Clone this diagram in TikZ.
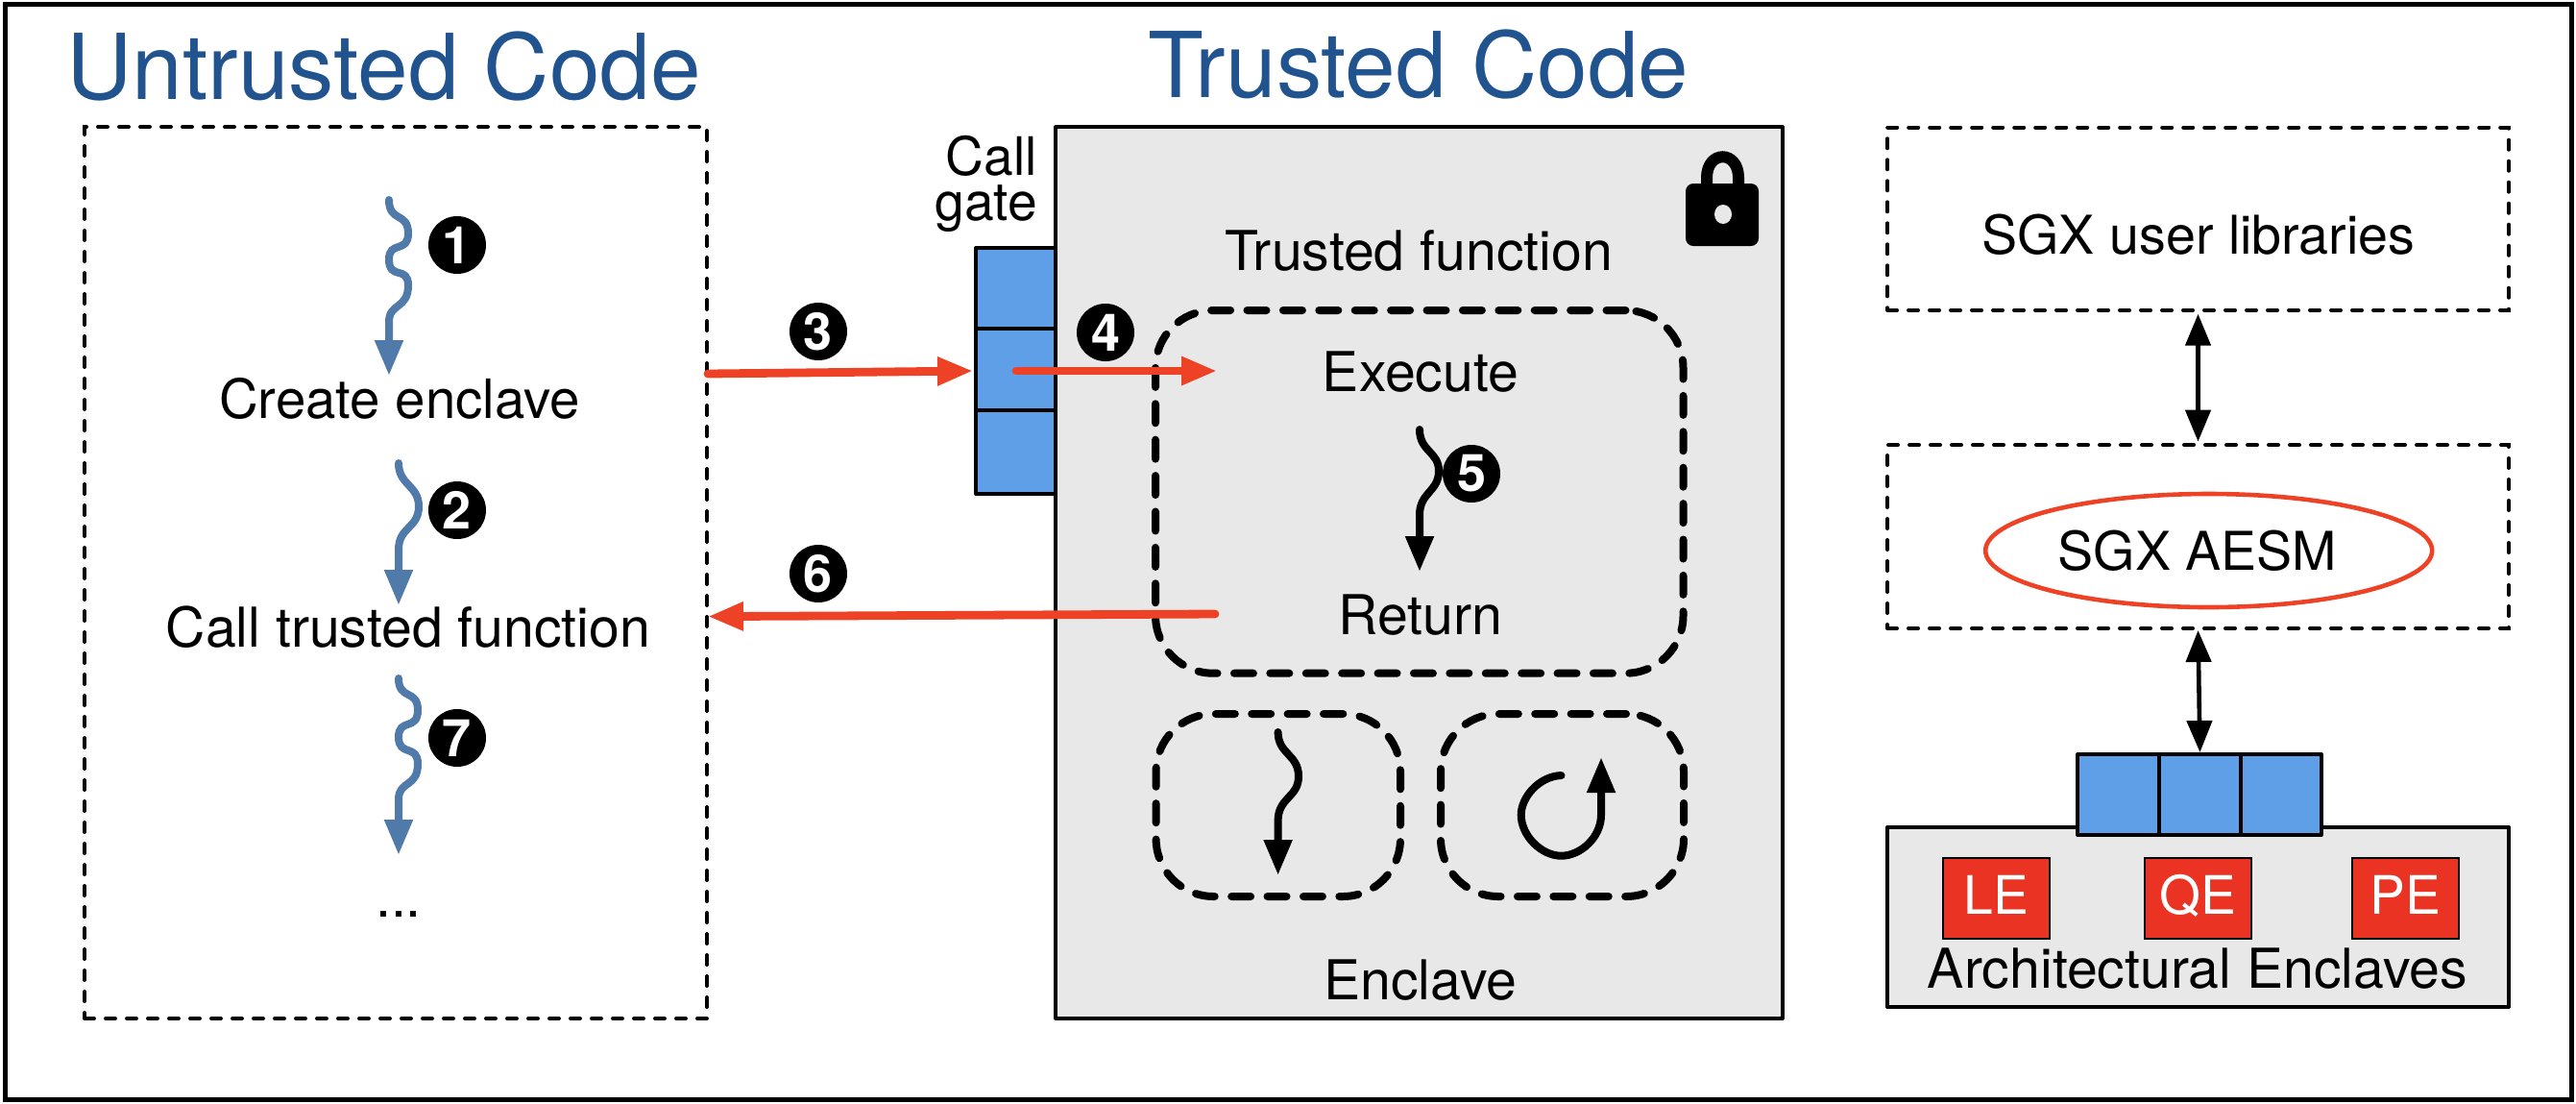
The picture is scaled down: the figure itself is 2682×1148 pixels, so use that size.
\documentclass[tikz,border=0pt]{standalone}
\usepackage{fontspec}
\setmainfont{TeX Gyre Heros}
\usetikzlibrary{arrows.meta,shapes.geometric}
\definecolor{titleblue}{HTML}{21538F}
\definecolor{wave}{HTML}{507AA9}
\definecolor{gateblue}{HTML}{5E9FE8}
\definecolor{panel}{HTML}{E8E8E8}
\definecolor{flow}{HTML}{EE4226}
\definecolor{aered}{HTML}{EA3323}
\tikzset{
  every node/.style={inner sep=0pt,outer sep=0pt},
  sz/.style 2 args={minimum width=#1*0.5pt,minimum height=#2*0.5pt},
  label/.style={anchor=base,font=\fontsize{28.6}{33}\selectfont},
  narrowlabel/.style={anchor=base,font=\fontsize{27.8}{33}\selectfont},
  title/.style={anchor=base,text=titleblue,font=\fontsize{47.3}{56}\selectfont},
  thindash/.style={draw=black,line width=2pt,line cap=round,dash pattern=on 5pt off 6pt},
  thickdash/.style={draw=black,line width=4pt,line cap=round,dash pattern=on 10pt off 8.7pt,rounded corners=30pt},
  panelbox/.style={draw=black,fill=panel,line width=2pt,line join=round},
  cell/.style={draw=black,fill=gateblue,line width=2pt,line join=round},
  badge/.style={circle,fill=black,text=white,minimum size=30pt,font=\fontsize{27}{27}\selectfont\bfseries},
  aebox/.style={draw=black,fill=aered,line width=1pt,text=white,text height=20pt,text depth=3.3pt,font=\fontsize{27.6}{33}\selectfont},
  flowarrow/.style={draw=flow,line width=4.4pt,line cap=round,-{Triangle[length=18.5pt,width=14pt]}},
  wavearrow/.style={draw=wave,line width=4pt,line cap=round,-{Triangle[length=18.5pt,width=14pt]}},
  blackwave/.style={draw=black,line width=4pt,line cap=round,-{Triangle[length=18.5pt,width=14pt]}},
  biarrow/.style={draw=black,line width=2.3pt,{Triangle[length=16.5pt,width=13pt]}-{Triangle[length=16.5pt,width=13pt]}}
}
\begin{document}
\begin{tikzpicture}[x=0.5pt,y=-0.5pt]
\useasboundingbox (0,0) rectangle (2682,1148);
% frame
\node[draw=black,line width=2.5pt,sz={2672}{1140}] (frame) at (1341,574) {};
% titles
\node[title] (tu) at (400,103) {Untrusted Code};
\node[title] (tt) at (1477,101) {Trusted Code};
% left box
\node[thindash,sz={648}{928}] (untrusted) at (412,596) {};
\node[label,font=\fontsize{28.2}{33}\selectfont] (create) at (416,435) {Create enclave};
\node[label] (calltf) at (425,673) {Call trusted function};
\node[label] (dots) at (415,954) {...};
% enclave
\node[panelbox,sz={757}{927.5}] (enclave) at (1477.5,596) {};
% call gate
\node[cell,sz={83}{84}] (gate1) at (1057.5,300) {};
\node[cell,sz={83}{84.5}] (gate2) at (1057.5,384.25) {};
\node[cell,sz={83}{87.5}] (gate3) at (1057.5,470.25) {};
\node[anchor=north east,align=right,font=\fontsize{27.6}{23.5}\selectfont] (gatelabel) at (1080,141) {Call\\gate};
% lock
\fill[black,rounded corners=4pt] (1755,191) rectangle (1831,256);
\draw[black,line width=6pt] (1777,197) -- (1777,185) .. controls (1777,156) and (1810,156) .. (1810,185) -- (1810,197);
\fill[panel] (1794,223) ellipse (4.5pt and 5pt);
% enclave contents
\node[label] (tf) at (1477,281) {Trusted function};
\node[thickdash,sz={549.5}{377.7}] (tfbox) at (1477.75,511.85) {};
\node[thickdash,sz={254.4}{190}] (sbl) at (1330.8,838) {};
\node[thickdash,sz={253}{190}] (sbr) at (1626.5,838) {};
\node[label] (exec) at (1479,407) {Execute};
\node[label] (ret) at (1479,660) {Return};
\node[label] (enc) at (1479,1040) {Enclave};
% wave arrows
\coordinate (w1s) at (405,208); \coordinate (w1e) at (405,391);
\draw[wavearrow] (w1s) .. controls (405,232) and (425,220) .. (425,243)
  .. controls (425,264) and (405,250) .. (405,270)
  .. controls (405,292) and (425,276) .. (425,297)
  .. controls (425,322) and (405,315) .. (405,335) -- (w1e);
\coordinate (w2s) at (415,482); \coordinate (w2e) at (415,630);
\draw[wavearrow] (w2s) .. controls (415,505) and (436,505) .. (436,527)
  .. controls (436,550) and (415,548) .. (415,572) -- (w2e);
\coordinate (w7s) at (415,706); \coordinate (w7e) at (415,890);
\draw[wavearrow] (w7s) .. controls (415,729) and (435,717) .. (435,739)
  .. controls (435,761) and (415,747) .. (415,767)
  .. controls (415,788) and (435,774) .. (435,795)
  .. controls (435,820) and (415,812) .. (415,832) -- (w7e);
\coordinate (w5s) at (1478,447); \coordinate (w5e) at (1478,595);
\draw[blackwave] (w5s) .. controls (1478,470) and (1498,470) .. (1498,490)
  .. controls (1498,512) and (1478,512) .. (1478,536) -- (w5e);
\coordinate (wss) at (1330.6,762); \coordinate (wse) at (1330.6,911);
\draw[blackwave] (wss) .. controls (1330.6,785) and (1352,785) .. (1352,808)
  .. controls (1352,830) and (1330.6,830) .. (1330.6,854) -- (wse);
\coordinate (lps) at (1625.5,807); \coordinate (lpe) at (1667,788);
\draw[blackwave] (lps) .. controls (1602,808) and (1583.7,830) .. (1583.7,848)
  .. controls (1583.7,870) and (1605,890.7) .. (1625.5,890.7)
  .. controls (1645,890.7) and (1667,872) .. (1667,848) -- (lpe);
% red flows
\coordinate (a3s) at (737,389); \coordinate (a3e) at (1013,386);
\draw[flowarrow] (a3s) -- (a3e);
\coordinate (a4s) at (1058,386); \coordinate (a4e) at (1267,386);
\draw[flowarrow] (a4s) -- (a4e);
\coordinate (a6s) at (1265,639); \coordinate (a6e) at (737,641.6);
\draw[flowarrow] (a6s) -- (a6e);
% badges
\node[badge] (b1) at (476,255) {1};
\node[badge] (b2) at (476,531) {2};
\node[badge] (b3) at (852,345) {3};
\node[badge] (b4) at (1151,346) {4};
\node[badge] (b5) at (1532,493) {5};
\node[badge] (b6) at (852,597) {6};
\node[badge] (b7) at (476,768) {7};
% right column
\node[thindash,sz={647}{190.2}] (lib) at (2288.5,227.6) {};
\node[narrowlabel] (libt) at (2289,264) {SGX user libraries};
\node[thindash,sz={647}{191}] (aesmbox) at (2288.5,558.5) {};
\node[draw=flow,line width=2.3pt,ellipse,sz={465}{118}] (aesm) at (2299.7,573) {};
\node[narrowlabel] (aesmt) at (2288,593.7) {SGX AESM};
\node[panelbox,sz={647}{187.3}] (arch) at (2288.5,954.35) {};
\node[cell,sz={84.7}{84}] (bar1) at (2205.65,827) {};
\node[cell,sz={85}{84}] (bar2) at (2290.5,827) {};
\node[cell,sz={83.7}{84}] (bar3) at (2374.85,827) {};
\node[aebox,sz={111.7}{84}] (le) at (2078.5,935) {LE};
\node[aebox,sz={111.7}{84}] (qe) at (2288.5,935) {QE};
\node[aebox,sz={111.7}{84}] (pe) at (2504.5,935) {PE};
\node[label] (archt) at (2288,1028) {Architectural Enclaves};
\draw[biarrow,shorten <=2pt,shorten >=1.7pt] (lib.south) -- (aesmbox.north);
\draw[biarrow,shorten <=1pt,shorten >=1pt] (aesmbox.south) -- (bar2.north);
\end{tikzpicture}
\end{document}
